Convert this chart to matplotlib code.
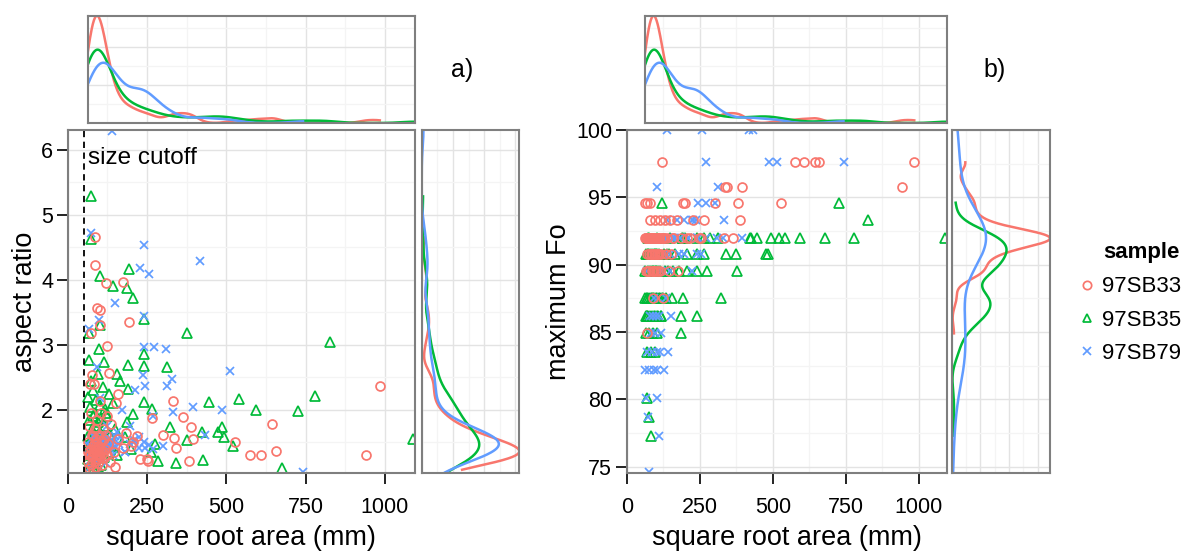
import numpy as np
import matplotlib
matplotlib.use("Agg")
import matplotlib.pyplot as plt
from matplotlib.lines import Line2D
from matplotlib.ticker import MultipleLocator, MaxNLocator, AutoMinorLocator

plt.rcParams['font.family'] = ['Liberation Sans', 'DejaVu Sans']

# particle measurements per sample: square root area (mm), aspect ratio, maximum Fo
s33_area = [984, 942, 658, 643, 608, 576, 527, 396, 388, 381, 365, 343, 336, 333, 302,
            265, 254, 249, 228, 217, 207, 199, 194, 173, 159, 149, 131, 123, 123, 121,
            114, 102, 102, 102, 97, 91, 86, 86, 84, 80, 80, 76, 73, 70, 63,
            63, 65, 66, 68, 68, 70, 72, 74, 75, 77, 78, 80, 81, 82, 84,
            85, 86, 87, 88, 89, 90, 90, 91, 92, 93, 94, 95, 96, 98, 99,
            100, 102, 104, 105, 107, 109, 110, 112, 115, 118, 120, 124, 128, 133, 138,
            145, 152, 158, 175, 185]
s33_aspect = [2.37, 1.31, 1.37, 1.78, 1.31, 1.31, 1.50, 1.55, 1.73, 1.22, 1.89, 1.42, 1.57, 2.14, 1.62,
              1.88, 1.22, 1.24, 1.25, 1.60, 1.50, 1.45, 3.35, 3.96, 2.25, 1.12, 2.57, 2.98, 1.91, 3.95,
              1.55, 3.54, 3.30, 2.14, 1.30, 3.56, 4.65, 4.23, 2.40, 1.45, 1.60, 2.54, 3.18, 2.40, 1.35,
              1.20, 1.50, 1.10, 1.30, 1.75, 1.30, 1.95, 1.40, 1.15, 1.62, 1.28, 1.36, 1.08, 1.48, 1.33,
              1.70, 1.22, 1.40, 1.35, 1.12, 1.38, 1.55, 1.30, 1.85, 1.38, 1.25, 1.45, 1.18, 1.62, 1.32,
              1.42, 1.28, 1.95, 1.36, 1.15, 1.52, 1.33, 1.70, 1.26, 1.40, 1.62, 1.30, 1.48, 1.20, 1.78,
              1.35, 2.10, 1.55, 1.42, 1.65]
s33_fo = [97.6, 95.8, 97.6, 97.6, 97.6, 97.6, 94.6, 95.8, 93.3, 94.6, 92.0, 95.8, 95.8, 92.0, 94.6,
          93.3, 92.0, 92.0, 93.3, 92.0, 92.0, 94.6, 94.6, 93.3, 92.0, 93.3, 93.3, 92.0, 92.0, 97.6,
          93.3, 92.0, 92.0, 90.8, 93.3, 92.0, 92.0, 90.8, 92.0, 94.6, 93.3, 92.0, 89.5, 94.6, 94.6,
          92.0, 92.0, 89.5, 84.9, 92.0, 90.8, 89.5, 92.0, 92.0, 90.8, 89.5, 92.0, 92.0, 90.8, 92.0,
          89.5, 92.0, 90.8, 92.0, 89.5, 87.5, 92.0, 92.0, 90.8, 92.0, 89.5, 92.0, 90.8, 92.0, 92.0,
          89.5, 90.8, 92.0, 92.0, 89.5, 90.8, 92.0, 92.0, 89.5, 90.8, 92.0, 87.5, 92.0, 90.8, 92.0,
          89.5, 90.8, 92.0, 89.5, 92.0]

s35_area = [1089, 826, 779, 727, 677, 593, 541, 522, 493, 485, 475, 446, 427, 422, 377,
            375, 341, 322, 312, 286, 275, 265, 264, 240, 240, 240, 240, 207, 205, 193,
            191, 190, 186, 186, 157, 144, 120, 114, 102, 102, 100, 73, 73, 68, 68,
            63, 64, 65, 66, 67, 68, 69, 70, 71, 72, 73, 74, 75, 76, 77,
            78, 79, 80, 81, 82, 83, 84, 85, 86, 87, 88, 89, 90, 91, 92,
            93, 94, 95, 96, 97, 98, 99, 100, 101, 102, 103, 104, 106, 108, 110,
            112, 114, 116, 118, 120, 123, 126, 130, 134, 138, 142, 148, 155, 165, 180,
            200]
s35_aspect = [1.55, 3.04, 2.22, 1.99, 1.10, 2.00, 2.17, 1.45, 1.59, 1.74, 1.66, 2.12, 1.23, 1.66, 3.18,
              1.53, 1.19, 1.73, 2.66, 1.22, 1.47, 2.02, 1.36, 3.39, 2.86, 2.67, 2.12, 1.94, 3.72, 4.16,
              2.32, 2.69, 3.87, 1.81, 2.55, 3.90, 1.95, 2.74, 4.05, 3.30, 2.94, 5.28, 4.63, 3.18, 2.77,
              1.25, 1.60, 2.20, 1.10, 1.45, 1.85, 1.30, 2.05, 1.15, 1.55, 1.38, 2.45, 1.20, 1.70, 1.42,
              1.05, 1.90, 1.33, 2.30, 1.50, 1.25, 1.62, 1.40, 1.95, 1.18, 1.48, 2.15, 1.35, 1.75, 1.28,
              1.58, 1.12, 2.55, 1.44, 1.82, 1.30, 1.65, 1.22, 2.08, 1.52, 1.38, 1.88, 1.16, 1.60, 2.35,
              1.42, 1.75, 1.28, 2.02, 1.55, 1.90, 1.35, 2.25, 1.62, 1.45, 2.10, 1.70, 1.30, 2.45, 1.58,
              1.40]
s35_fo = [92.0, 93.3, 92.0, 94.6, 92.0, 92.0, 92.0, 92.0, 92.0, 90.8, 90.8, 92.0, 92.0, 92.0, 89.5,
          90.8, 90.8, 87.5, 92.0, 92.0, 89.5, 90.8, 92.0, 90.8, 92.0, 89.5, 86.2, 89.5, 90.8, 92.0,
          87.5, 92.0, 84.9, 86.2, 89.5, 90.8, 94.6, 87.5, 92.0, 90.8, 89.5, 92.0, 90.8, 87.5, 86.2,
          87.5, 89.5, 86.2, 90.8, 84.9, 83.5, 86.2, 87.5, 80.1, 89.5, 86.2, 90.8, 78.7, 87.5, 92.0,
          84.9, 89.5, 86.2, 90.8, 77.3, 87.5, 83.5, 89.5, 86.2, 90.8, 87.5, 87.5, 84.9, 89.5, 86.2,
          90.8, 87.5, 89.5, 83.5, 90.8, 86.2, 87.5, 89.5, 90.8, 84.9, 86.2, 87.5, 89.5, 86.2, 90.8,
          87.5, 89.5, 86.2, 86.2, 87.5, 87.5, 90.8, 89.5, 87.5, 90.8, 89.5, 92.0, 87.5, 90.8, 89.5,
          92.0]

s79_area = [742, 513, 488, 433, 417, 394, 333, 328, 314, 310, 301, 272, 257, 243, 240,
            240, 240, 238, 228, 211, 149, 139, 102, 100, 91, 72, 68,
            63, 66, 69, 72, 75, 78, 81, 84, 87, 90, 93, 96, 99, 102, 105,
            108, 111, 114, 117, 120, 124, 128, 132, 137, 142, 148, 155, 163, 172, 182,
            195, 210, 225, 245, 270,
            95, 102, 110, 118, 126, 134, 142, 150, 165, 180, 195, 210, 225, 240, 255, 270]
s79_aspect = [1.04, 2.59, 2.00, 1.61, 4.28, 2.05, 1.96, 2.48, 2.37, 2.94, 1.45, 2.96, 4.09, 2.37, 4.53,
              3.44, 2.96, 2.54, 4.18, 2.31, 3.64, 6.28, 2.19, 3.38, 2.66, 4.72, 3.25,
              1.30, 1.45, 1.12, 1.55, 1.45, 1.25, 1.60, 1.38, 1.58, 1.20, 1.50, 1.48, 1.35, 1.52, 1.28,
              1.62, 1.52, 1.40, 1.62, 1.18, 1.75, 1.55, 1.45, 1.44, 1.30, 1.60, 1.66, 1.48, 2.00, 1.36,
              1.75, 1.50, 1.58, 1.42, 1.90,
              1.42, 1.50, 1.38, 1.55, 1.46, 1.40, 1.52, 1.44, 1.58, 1.36, 1.48, 1.54, 1.42, 1.50, 1.46, 1.40]
s79_fo = [97.6, 97.6, 97.6, 100.0, 100.0, 92.0, 93.3, 92.0, 95.8, 92.0, 94.6, 97.6, 100.0, 94.6, 92.0,
          92.0, 90.8, 93.3, 93.3, 92.0, 89.5, 100.0, 95.8, 90.8, 92.0, 92.0, 89.5,
          82.2, 80.1, 83.5, 78.7, 82.2, 74.6, 86.2, 84.9, 83.5, 86.2, 87.5, 84.9, 86.2, 80.1, 82.2,
          87.5, 77.3, 83.5, 89.5, 92.0, 92.0, 90.8, 92.0, 93.3, 92.0, 90.8, 92.0, 92.0, 93.3, 92.0,
          90.8, 92.0, 93.3, 92.0, 92.0,
          82.2, 83.5, 86.2, 84.9, 82.2, 87.5, 83.5, 86.2, 92.0, 90.8, 93.3, 92.0, 89.5, 92.0, 90.8, 94.6]

samples = ['97SB33', '97SB35', '97SB79']
colors = {'97SB33': '#F8766D', '97SB35': '#00BA38', '97SB79': '#619CFF'}
markers = {'97SB33': dict(marker='o', ms=6.4, mfc='none', mew=1.25),
           '97SB35': dict(marker='^', ms=7.7, mfc='none', mew=1.25),
           '97SB79': dict(marker='x', ms=6.4, mew=1.25)}
area = {'97SB33': s33_area, '97SB35': s35_area, '97SB79': s79_area}
aspect = {'97SB33': s33_aspect, '97SB35': s35_aspect, '97SB79': s79_aspect}
fo = {'97SB33': s33_fo, '97SB35': s35_fo, '97SB79': s79_fo}
draw_order = ['97SB35', '97SB79', '97SB33']

size_cutoff = 50
x_max = 1095
area_min = min(min(v) for v in area.values())

W, H = 1184, 552
fig = plt.figure(figsize=(W / 100, H / 100), dpi=100)


def px_axes(x0, y0, x1, y1):
    return fig.add_axes([x0 / W, 1 - y1 / H, (x1 - x0) / W, (y1 - y0) / H])


def kde(values, n=512):
    # gaussian kernel, bandwidth as R's bw.nrd0, evaluated over the data range
    v = np.asarray(values, float)
    sd = v.std(ddof=1)
    q75, q25 = np.percentile(v, [75, 25])
    bw = 0.9 * min(sd, (q75 - q25) / 1.34) * len(v) ** -0.2
    grid = np.linspace(v.min(), v.max(), n)
    z = (grid[:, None] - v[None, :]) / bw
    dens = np.exp(-0.5 * z ** 2).sum(axis=1) / (len(v) * bw * np.sqrt(2 * np.pi))
    return grid, dens


def style_panel(ax):
    ax.set_facecolor('white')
    for s in ax.spines.values():
        s.set_color('#7f7f7f')
        s.set_linewidth(1.5)
    ax.grid(True, which='major', color='#e3e3e3', lw=1.0)
    ax.grid(True, which='minor', color='#f4f4f4', lw=0.9)
    ax.set_axisbelow(True)


def style_main(ax):
    style_panel(ax)
    ax.tick_params(which='major', direction='out', length=8, width=1.4, color='#222222',
                   labelsize=15.5)
    ax.tick_params(axis='x', pad=9)
    ax.tick_params(axis='y', pad=2.5)
    ax.tick_params(which='minor', length=0)


def style_margin(ax):
    style_panel(ax)
    ax.tick_params(which='both', length=0, labelbottom=False, labelleft=False)


def scatter_panel(ax, yvals):
    for s in draw_order:
        ax.plot(area[s], yvals[s], ls='none', color=colors[s], mec=colors[s], **markers[s])
    ax.set_xlim(0, x_max)
    ax.xaxis.set_major_locator(MultipleLocator(250))
    ax.xaxis.set_minor_locator(MultipleLocator(125))
    ax.set_xlabel('square root area (mm)', fontsize=19.5, labelpad=5)


def top_density(ax):
    peak = 0
    for s in samples:
        g, d = kde(area[s])
        ax.plot(g, d, color=colors[s], lw=1.8)
        peak = max(peak, d.max())
    ax.set_xlim(area_min, x_max)
    ax.set_ylim(0, peak)
    ax.xaxis.set_major_locator(MultipleLocator(250))
    ax.xaxis.set_minor_locator(MultipleLocator(125))
    ax.yaxis.set_major_locator(MaxNLocator(3))
    ax.yaxis.set_minor_locator(AutoMinorLocator(2))
    style_margin(ax)


def side_density(ax, yvals, ylim, major, minor):
    peak = 0
    for s in samples:
        g, d = kde(yvals[s])
        ax.plot(d, g, color=colors[s], lw=1.8)
        peak = max(peak, d.max())
    ax.set_xlim(0, peak)
    ax.set_ylim(*ylim)
    ax.yaxis.set_major_locator(MultipleLocator(major))
    ax.yaxis.set_minor_locator(MultipleLocator(minor))
    ax.xaxis.set_major_locator(MaxNLocator(4))
    ax.xaxis.set_minor_locator(AutoMinorLocator(2))
    style_margin(ax)


# panel a: aspect ratio
ax_a = px_axes(67.7, 130, 415, 473)
scatter_panel(ax_a, aspect)
ax_a.axvline(size_cutoff, color='black', ls=(0, (3.5, 2.5)), lw=1.3)
ax_a.text(size_cutoff + 14, 5.87, 'size cutoff', fontsize=17.5, va='center', ha='left')
ax_a.set_ylim(1.03, 6.3)
ax_a.yaxis.set_major_locator(MultipleLocator(1))
ax_a.yaxis.set_minor_locator(MultipleLocator(0.5))
ax_a.set_ylabel('aspect ratio', fontsize=19.5, labelpad=2)
style_main(ax_a)

top_density(px_axes(87.7, 15.7, 415, 123))
side_density(px_axes(421.7, 130, 519.3, 473), aspect, (1.03, 6.3), 1, 0.5)
fig.text(462 / W, 1 - 70 / H, 'a)', fontsize=18, ha='center', va='center')

# panel b: maximum Fo
ax_b = px_axes(626.7, 130, 946.7, 473)
scatter_panel(ax_b, fo)
ax_b.set_ylim(74.53, 100)
ax_b.yaxis.set_major_locator(MultipleLocator(5))
ax_b.yaxis.set_minor_locator(MultipleLocator(2.5))
ax_b.set_ylabel('maximum Fo', fontsize=19.5, labelpad=3)
style_main(ax_b)

top_density(px_axes(645, 15.7, 946.7, 123))
side_density(px_axes(951.7, 130, 1050, 473), fo, (74.53, 100), 5, 2.5)
fig.text(995 / W, 1 - 70 / H, 'b)', fontsize=18, ha='center', va='center')

# legend: title sits over the labels, markers hang to the left
handles = [Line2D([], [], ls='none', color=colors[s], mec=colors[s], **markers[s]) for s in samples]
for h in handles:
    h.set_markersize(6)
fig.legend(handles, samples, loc='center left', bbox_to_anchor=(1079 / W, 1 - 320 / H),
           frameon=False, fontsize=16, handlelength=0.7, handletextpad=0.35,
           labelspacing=0.55, borderpad=0, borderaxespad=0)
fig.text(1103 / W, 1 - 253 / H, 'sample', fontsize=16, fontweight='bold', ha='left', va='center')

fig.savefig('out.png', dpi=100)
